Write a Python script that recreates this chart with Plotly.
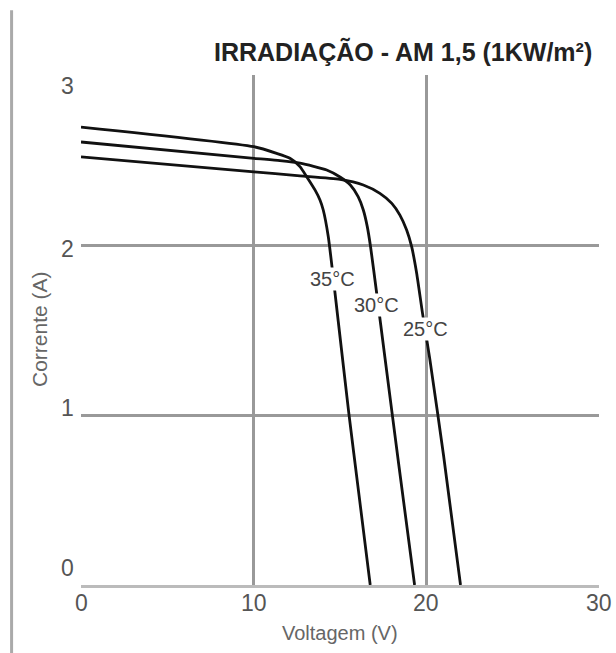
import plotly.graph_objects as go

# I-V characteristic of the module at three cell temperatures
temperature_labels = ["25°C", "30°C", "35°C"]

voltage_25 = [0, 10.02, 12.68, 15.0, 16.35, 17.31, 18.0, 18.47, 18.86, 19.15, 19.44, 19.78, 20.2, 21.0, 21.98]
current_25 = [2.518, 2.43, 2.407, 2.386, 2.353, 2.304, 2.245, 2.176, 2.088, 1.99, 1.834, 1.598, 1.33, 0.76, 0]

voltage_30 = [0, 10.02, 11.52, 12.68, 14.23, 15.0, 15.6, 16.05, 16.35, 16.58, 16.77, 17.1, 17.6, 18.4, 19.32]
current_30 = [2.606, 2.51, 2.496, 2.481, 2.441, 2.40, 2.353, 2.284, 2.206, 2.108, 1.99, 1.735, 1.34, 0.71, 0]

voltage_35 = [0, 10.02, 11.33, 12.1, 12.68, 13.07, 13.55, 13.84, 14.03, 14.32, 14.9, 15.5, 16.1, 16.75]
current_35 = [2.694, 2.578, 2.539, 2.51, 2.461, 2.402, 2.324, 2.265, 2.206, 2.05, 1.55, 1.02, 0.53, 0]

x_ticks = [0, 10, 20, 30]
y_ticks = [0, 1, 2, 3]

title_text = "IRRADIAÇÃO - AM 1,5 (1KW/m²)"
x_title = "Voltagem (V)"
y_title = "Corrente (A)"

FONT = "Liberation Sans, Arial, sans-serif"

fig = go.Figure()

curves = [
    (voltage_25, current_25),
    (voltage_30, current_30),
    (voltage_35, current_35),
]
for (v, i), name in zip(curves, temperature_labels):
    fig.add_trace(go.Scatter(
        x=v, y=i, mode="lines", name=name,
        line=dict(color="#111111", width=2.8, shape="spline", smoothing=0.6),
        hoverinfo="x+y+name",
    ))

annotations = []

# curve labels sit on the steep part of each curve, over a white patch
label_spots = {"25°C": (19.98, 1.506), "30°C": (17.12, 1.65), "35°C": (14.58, 1.80)}
for name in temperature_labels:
    lx, ly = label_spots[name]
    annotations.append(dict(
        x=lx, y=ly, xref="x", yref="y", text=name, showarrow=False,
        xanchor="center", yanchor="middle", bgcolor="white", borderpad=0,
        font=dict(family=FONT, size=20, color="#444444"),
    ))

# tick labels
y_label_shift = [17, 7, -4, -11]
for val, dy in zip(y_ticks, y_label_shift):
    annotations.append(dict(
        x=0, y=val, xref="paper", yref="y", text=str(val), showarrow=False,
        xanchor="right", yanchor="middle", xshift=-5, yshift=dy,
        font=dict(family=FONT, size=23, color="#555555"),
    ))
for val in x_ticks:
    annotations.append(dict(
        x=val, y=0, xref="x", yref="paper", text=str(val), showarrow=False,
        xanchor="center", yanchor="middle", yshift=-18,
        font=dict(family=FONT, size=23, color="#555555"),
    ))

# axis titles and heading
annotations.append(dict(
    x=0.5, y=0, xref="paper", yref="paper", text=x_title, showarrow=False,
    xanchor="center", yanchor="middle", yshift=-48,
    font=dict(family=FONT, size=20, color="#666666"),
))
annotations.append(dict(
    x=0, y=0.502, xref="paper", yref="paper", text=y_title, showarrow=False,
    xanchor="center", yanchor="middle", xshift=-41, textangle=-90,
    font=dict(family=FONT, size=21, color="#666666"),
))
annotations.append(dict(
    x=1, y=1, xref="paper", yref="paper", text="<b>" + title_text + "</b>",
    showarrow=False, xanchor="right", yanchor="middle", xshift=-5, yshift=24,
    font=dict(family=FONT, size=25, color="#222222"),
))

fig.update_layout(
    width=616, height=653,
    margin=dict(l=81, r=17, t=75, b=68),
    paper_bgcolor="white", plot_bgcolor="white",
    showlegend=False,
    annotations=annotations,
    shapes=[dict(
        type="line", xref="paper", yref="paper",
        x0=-0.134, x1=-0.134, y0=-0.2, y1=1.127,
        line=dict(color="#aaaaaa", width=3),
    )],
)
fig.update_xaxes(
    range=[0, 30], tickvals=[10, 20], showticklabels=False, ticks="",
    showgrid=True, gridcolor="#999999", gridwidth=2.5,
    zeroline=False, showline=True, linecolor="#bbbbbb", linewidth=3,
)
fig.update_yaxes(
    range=[0, 3], tickvals=[1, 2], showticklabels=False, ticks="",
    showgrid=True, gridcolor="#999999", gridwidth=2.5,
    zeroline=False, showline=False,
)

fig.write_html("out.html")
